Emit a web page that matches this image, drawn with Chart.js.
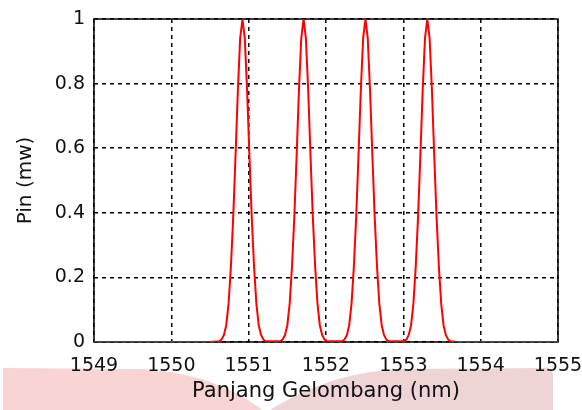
<!DOCTYPE html>
<html>
<head>
<meta charset="utf-8">
<script src="https://cdn.jsdelivr.net/npm/chart.js@4/dist/chart.umd.min.js"></script>
<style>
  html, body { margin: 0; padding: 0; background: #fff; }
  #wrap { width: 582px; height: 410px; }
</style>
</head>
<body>
<div id="wrap"><canvas id="chart"></canvas></div>
<script>
// wavelength (nm) and input power (mW)
const wavelength = [
    1549.00, 1550.50,
    1550.62, 1550.65, 1550.68, 1550.71, 1550.74, 1550.77, 1550.80, 1550.83, 1550.86, 1550.89, 1550.92,
    1550.95, 1550.98, 1551.01, 1551.04, 1551.07, 1551.10, 1551.13, 1551.16, 1551.19, 1551.22,
    1551.41, 1551.44, 1551.47, 1551.50, 1551.53, 1551.56, 1551.59, 1551.62, 1551.65, 1551.68, 1551.71,
    1551.74, 1551.77, 1551.80, 1551.83, 1551.86, 1551.89, 1551.92, 1551.95, 1551.98, 1552.01,
    1552.21, 1552.24, 1552.27, 1552.30, 1552.33, 1552.36, 1552.39, 1552.42, 1552.45, 1552.48, 1552.51,
    1552.54, 1552.57, 1552.60, 1552.63, 1552.66, 1552.69, 1552.72, 1552.75, 1552.78, 1552.81,
    1553.01, 1553.04, 1553.07, 1553.10, 1553.13, 1553.16, 1553.19, 1553.22, 1553.25, 1553.28, 1553.31,
    1553.34, 1553.37, 1553.40, 1553.43, 1553.46, 1553.49, 1553.52, 1553.55, 1553.58, 1553.61,
    1553.70, 1555.00
];
const power = [
    0, 0,
    0.002, 0.008, 0.022, 0.052, 0.118, 0.232, 0.385, 0.575, 0.778, 0.940, 1.000,
    0.940, 0.778, 0.575, 0.385, 0.232, 0.118, 0.052, 0.022, 0.008, 0.002,
    0.002, 0.008, 0.022, 0.052, 0.118, 0.232, 0.385, 0.575, 0.778, 0.940, 1.000,
    0.940, 0.778, 0.575, 0.385, 0.232, 0.118, 0.052, 0.022, 0.008, 0.002,
    0.002, 0.008, 0.022, 0.052, 0.118, 0.232, 0.385, 0.575, 0.778, 0.940, 1.000,
    0.940, 0.778, 0.575, 0.385, 0.232, 0.118, 0.052, 0.022, 0.008, 0.002,
    0.002, 0.008, 0.022, 0.052, 0.118, 0.232, 0.385, 0.575, 0.778, 0.940, 1.000,
    0.940, 0.778, 0.575, 0.385, 0.232, 0.118, 0.052, 0.022, 0.008, 0.002,
    0, 0
];
const xTicks = [1549, 1550, 1551, 1552, 1553, 1554, 1555];
const yTicks = [0, 0.2, 0.4, 0.6, 0.8, 1];

// baseline between the peaks sits under the black axis line
const hiddenFrom = 1550.5, hiddenTo = 1553.7;

const tickFont = { family: 'DejaVu Sans', size: 19 };
const titleFont = { family: 'DejaVu Sans', size: 21 };

// pink watermark strip behind the x axis title
const watermark = {
    id: 'watermark',
    beforeDraw(chart) {
        const c = chart.ctx;
        c.save();
        c.fillStyle = '#fff';
        c.fillRect(0, 0, chart.width, chart.height);
        c.fillStyle = '#f8d4d5';
        c.beginPath();
        c.moveTo(3, 410);
        c.lineTo(3, 368);
        c.lineTo(140, 369);
        c.bezierCurveTo(200, 372, 240, 392, 262, 410);
        c.closePath();
        c.fill();
        c.fillStyle = '#efd4d6';
        c.beginPath();
        c.moveTo(270, 410);
        c.bezierCurveTo(300, 392, 340, 372, 400, 369);
        c.lineTo(545, 368);
        c.quadraticCurveTo(553, 368, 553, 376);
        c.lineTo(553, 410);
        c.closePath();
        c.fill();
        c.restore();
    }
};

// full box around the plot area
const frame = {
    id: 'frame',
    beforeDatasetsDraw(chart) {
        const a = chart.chartArea, c = chart.ctx;
        c.save();
        c.strokeStyle = '#000';
        c.lineWidth = 1.5;
        c.strokeRect(a.left, a.top, a.right - a.left, a.bottom - a.top);
        c.restore();
    }
};

new Chart(document.getElementById('chart'), {
    type: 'scatter',
    data: {
        datasets: [{
            data: wavelength.map((w, i) => ({ x: w, y: power[i] })),
            showLine: true,
            borderColor: '#ff0000',
            borderWidth: 2,
            pointRadius: 0,
            tension: 0,
            segment: {
                borderColor: ctx => (ctx.p0.parsed.y === 0 && ctx.p1.parsed.y === 0 &&
                    ctx.p0.parsed.x >= hiddenFrom && ctx.p1.parsed.x <= hiddenTo) ? 'rgba(0,0,0,0)' : '#ff0000'
            }
        }]
    },
    options: {
        responsive: true,
        maintainAspectRatio: false,
        animation: false,
        events: [],
        layout: { padding: { top: 19, right: 24, left: 0, bottom: 0 } },
        plugins: { legend: { display: false }, tooltip: { enabled: false } },
        scales: {
            x: {
                type: 'linear',
                min: 1549,
                max: 1555,
                afterBuildTicks: s => { s.ticks = xTicks.map(v => ({ value: v })); },
                afterFit: s => { s.height = 68; s.paddingLeft = 0; s.paddingRight = 0; },
                ticks: { color: '#111', font: tickFont, padding: 13, maxRotation: 0,
                    callback: v => String(v) },
                grid: { color: '#000', lineWidth: 1.5, drawTicks: false },
                border: { display: false, dash: [4, 4] },
                title: { display: true, text: 'Panjang Gelombang (nm)', color: '#111',
                    font: titleFont, padding: { top: 0, bottom: 6 } }
            },
            y: {
                min: 0,
                max: 1,
                afterBuildTicks: s => { s.ticks = yTicks.map(v => ({ value: v })); },
                afterFit: s => { s.width = 94; s.paddingTop = 0; s.paddingBottom = 0; },
                ticks: { color: '#111', font: tickFont, padding: 9,
                    callback: v => String(v) },
                grid: { color: '#000', lineWidth: 1.5, drawTicks: false },
                border: { display: false, dash: [4, 4] },
                title: { display: true, text: 'Pin (mw)', color: '#111',
                    font: { family: 'DejaVu Sans', size: 20 }, padding: { top: 14, bottom: 0 } }
            }
        }
    },
    plugins: [watermark, frame]
});
</script>
</body>
</html>
